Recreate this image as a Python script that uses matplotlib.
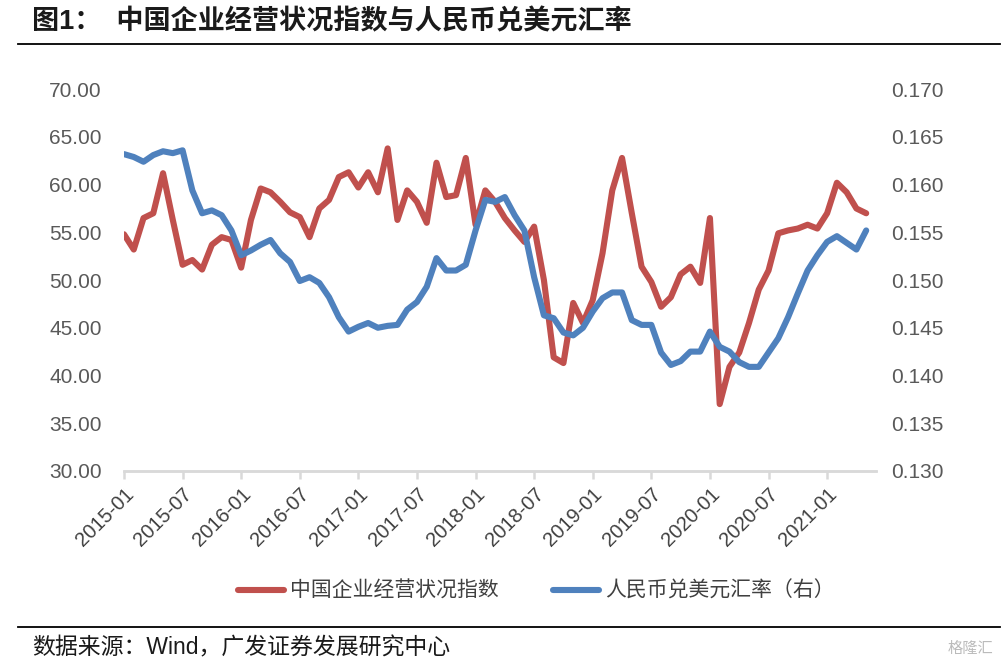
import numpy as np
import matplotlib.pyplot as plt

# ==========================================================
# 数据 (2015-01 ~ 2021-05, 月度)
# ==========================================================

months = [f"{2015 + i // 12}-{i % 12 + 1:02d}" for i in range(77)]

business_index = [
    54.8, 53.2, 56.5, 57.0, 61.2, 56.3, 51.6, 52.1, 51.1, 53.7, 54.5, 54.2,
    51.3, 56.3, 59.6, 59.2, 58.2, 57.1, 56.6, 54.5, 57.5, 58.4, 60.8, 61.3,
    59.7, 61.3, 59.2, 63.8, 56.3, 59.4, 58.2, 56.0, 62.3, 58.7, 58.9, 62.8,
    55.8, 59.4, 58.2, 56.5, 55.2, 54.0, 55.6, 50.0, 41.9, 41.3, 47.6, 45.5,
    47.9, 52.8, 59.4, 62.8, 57.0, 51.4, 49.8, 47.2, 48.2, 50.6, 51.4, 49.7,
    56.5, 37.0, 40.9, 42.4, 45.5, 49.0, 51.0, 54.9, 55.2, 55.4, 55.8, 55.4,
    57.0, 60.2, 59.2, 57.5, 57.0,
]

cny_usd = [
    0.1632, 0.1629, 0.1624, 0.1631, 0.1635, 0.1633, 0.1636, 0.1594, 0.1570, 0.1573, 0.1568, 0.1552,
    0.1526, 0.1531, 0.1537, 0.1542, 0.1528, 0.1519, 0.1499, 0.1503, 0.1497, 0.1482, 0.1461, 0.1446,
    0.1451, 0.1455, 0.1450, 0.1452, 0.1453, 0.1469, 0.1477, 0.1493, 0.1523, 0.1510, 0.1510, 0.1516,
    0.1552, 0.1584, 0.1582, 0.1587, 0.1568, 0.1552, 0.1503, 0.1463, 0.1460, 0.1445, 0.1442, 0.1450,
    0.1467, 0.1481, 0.1487, 0.1487, 0.1458, 0.1453, 0.1453, 0.1424, 0.1411, 0.1415, 0.1425, 0.1425,
    0.1446, 0.1430, 0.1425, 0.1414, 0.1409, 0.1409, 0.1424, 0.1439, 0.1461, 0.1486, 0.1510, 0.1526,
    0.1540, 0.1546, 0.1539, 0.1532, 0.1552,
]

label_red = "中国企业经营状况指数"
label_blue = "人民币兑美元汇率（右）"
RED = "#C0504D"
BLUE = "#4F81BD"
FONT = ["Liberation Sans", "Noto Sans CJK SC"]

plt.rcParams["font.family"] = FONT

# ==========================================================
# 图
# ==========================================================

fig = plt.figure(figsize=(10.08, 6.66), dpi=100)
ax = fig.add_axes([0.123, 0.293, 0.746, 0.573])
ax2 = ax.twinx()

x = np.arange(len(months))
l1, = ax.plot(x, business_index, color=RED, lw=4.4, solid_joinstyle="round",
              solid_capstyle="round", label=label_red)
l2, = ax2.plot(x, cny_usd, color=BLUE, lw=4.4, solid_joinstyle="round",
               solid_capstyle="round", label=label_blue)

ax.set_xlim(0, 77)
ax.set_ylim(30, 70)
ax2.set_ylim(0.130, 0.170)
ax.set_yticks(np.arange(30, 71, 5))
ax.set_yticklabels([f"{v:.2f}" for v in np.arange(30, 71, 5)])
ax2.set_yticks(np.arange(0.130, 0.1701, 0.005))
ax2.set_yticklabels([f"{v:.3f}" for v in np.arange(0.130, 0.1701, 0.005)])

xt = list(range(0, 77, 6))
ax.set_xticks(xt)
ax.set_xticklabels([months[i] for i in xt], rotation=45, ha="right",
                   rotation_mode="anchor", fontsize=14.5, color="#404040")

for a in (ax, ax2):
    for s in ("top", "left", "right"):
        a.spines[s].set_visible(False)
    a.spines["bottom"].set_color("#D9D9D9")
    a.spines["bottom"].set_linewidth(1.8)
ax.tick_params(axis="y", length=0, labelsize=15, labelcolor="#595959", pad=16)
ax2.tick_params(axis="y", length=0, labelsize=15, labelcolor="#595959", pad=11)
ax.tick_params(axis="x", length=6, width=1.8, color="#D9D9D9", pad=4)

# 图例
fig.legend([l1, l2], [label_red, label_blue], loc="center", bbox_to_anchor=(0.532, 0.113),
           ncol=2, frameon=False, fontsize=15, handlelength=2.2, columnspacing=2.6,
           handletextpad=0.3, labelcolor="#404040")

# 标题与来源
fig.text(0.032, 0.967, "图1：  中国企业经营状况指数与人民币兑美元汇率", fontsize=19.5,
         fontweight="bold", va="center", ha="left", color="#1a1a1a")
fig.add_artist(plt.Line2D([0.018, 0.992], [0.934, 0.934], color="black", lw=1.3))
fig.add_artist(plt.Line2D([0.018, 0.992], [0.059, 0.059], color="black", lw=1.3))
fig.text(0.032, 0.027, "数据来源：Wind，广发证券发展研究中心", fontsize=16.5,
         va="center", ha="left", color="#1a1a1a")
fig.text(0.985, 0.025, "格隆汇", fontsize=11, va="center", ha="right", color="#BBBBBB")

plt.savefig("out.png", dpi=100)
